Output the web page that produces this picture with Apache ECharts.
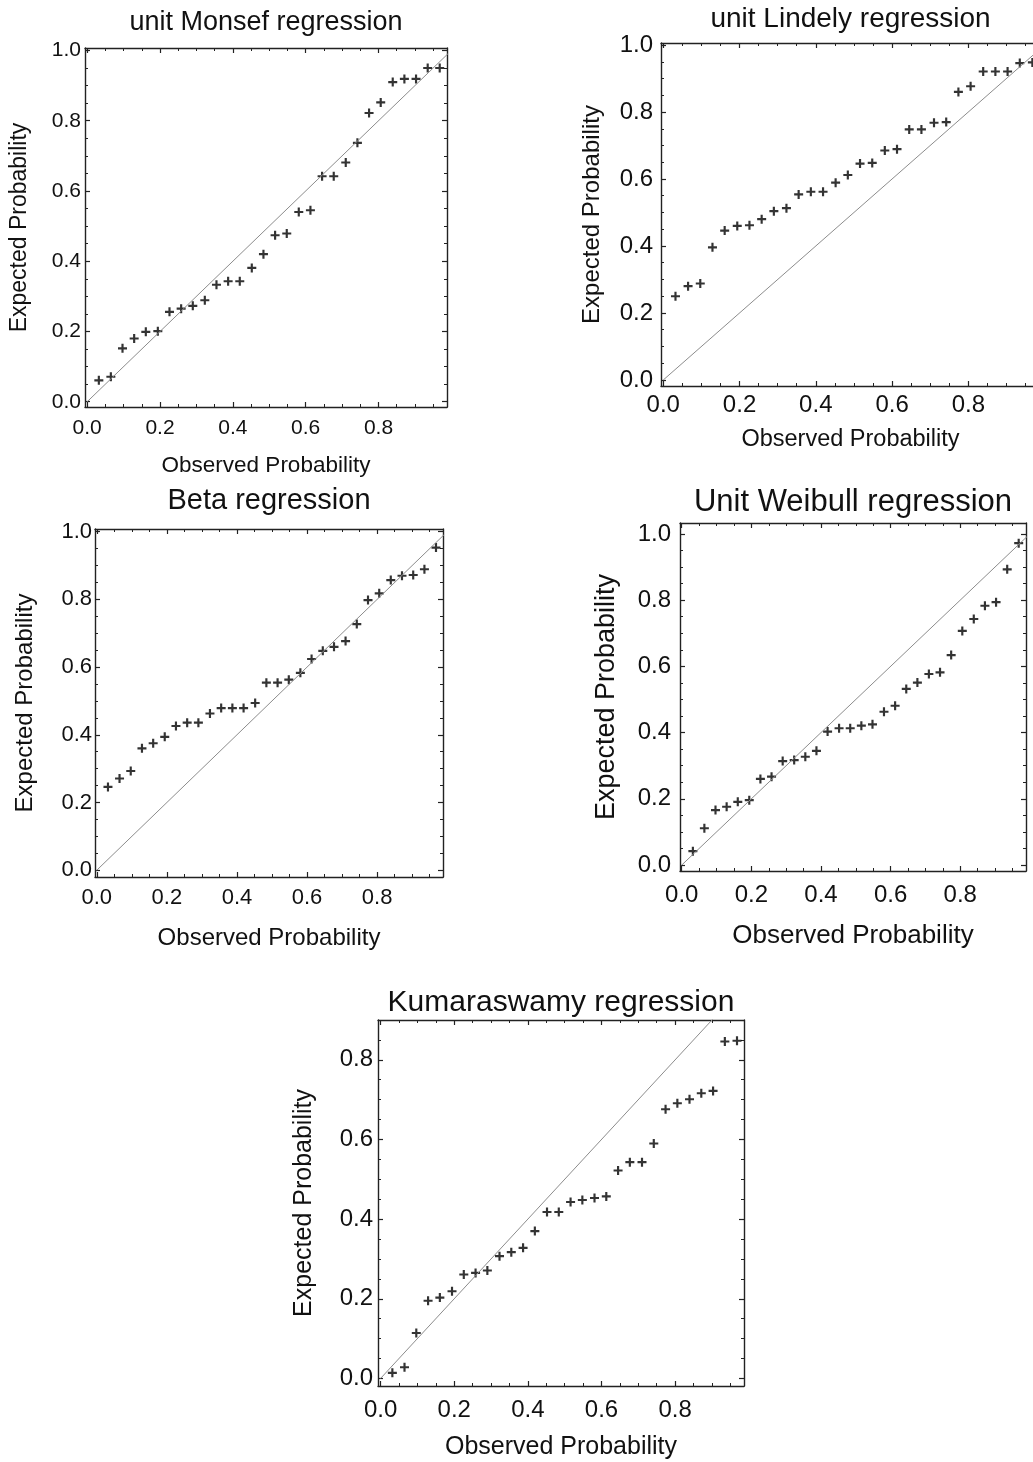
<!DOCTYPE html>
<html>
<head>
<meta charset="utf-8">
<script src="https://cdn.jsdelivr.net/npm/echarts@6/dist/echarts.min.js"></script>
<style>
html, body { margin: 0; padding: 0; background: #fff; }
#chart { width: 1033px; height: 1462px; }
</style>
</head>
<body>
<div id="chart"></div>
<script>
// observed probabilities (same for every panel)
var observed = [0.032, 0.065, 0.097, 0.129, 0.161, 0.194, 0.226, 0.258, 0.290, 0.323,
                0.355, 0.387, 0.419, 0.452, 0.484, 0.516, 0.548, 0.581, 0.613, 0.645,
                0.677, 0.710, 0.742, 0.774, 0.806, 0.839, 0.871, 0.903, 0.935, 0.968];

// expected probabilities per model
var monsef = [0.061, 0.071, 0.152, 0.180, 0.199, 0.201, 0.256, 0.265, 0.273, 0.289,
              0.333, 0.343, 0.343, 0.381, 0.420, 0.474, 0.479, 0.540, 0.545, 0.642,
              0.642, 0.681, 0.737, 0.822, 0.852, 0.910, 0.919, 0.919, 0.950, 0.950];
var lindely = [0.250, 0.280, 0.288, 0.396, 0.446, 0.460, 0.462, 0.480, 0.504, 0.513,
               0.554, 0.562, 0.562, 0.589, 0.612, 0.646, 0.648, 0.685, 0.689, 0.748,
               0.748, 0.768, 0.770, 0.860, 0.877, 0.921, 0.921, 0.921, 0.946, 0.948];
var beta = [0.246, 0.271, 0.293, 0.360, 0.375, 0.394, 0.426, 0.436, 0.436, 0.463,
            0.479, 0.479, 0.479, 0.494, 0.554, 0.554, 0.563, 0.583, 0.624, 0.648,
            0.660, 0.677, 0.727, 0.798, 0.818, 0.857, 0.870, 0.872, 0.889, 0.953];
var weibull = [0.042, 0.111, 0.166, 0.176, 0.191, 0.196, 0.260, 0.267, 0.314, 0.317,
               0.327, 0.345, 0.403, 0.413, 0.413, 0.421, 0.425, 0.463, 0.481, 0.532,
               0.551, 0.577, 0.582, 0.634, 0.707, 0.743, 0.783, 0.794, 0.893, 0.972];
var kumaraswamy = [0.014, 0.028, 0.114, 0.195, 0.203, 0.219, 0.261, 0.265, 0.271, 0.307,
                   0.317, 0.328, 0.370, 0.418, 0.418, 0.443, 0.448, 0.453, 0.457, 0.522,
                   0.543, 0.543, 0.590, 0.676, 0.691, 0.701, 0.716, 0.722, 0.846, 0.848];

// tick labels / tick positions
var majorTicks = [0, 0.2, 0.4, 0.6, 0.8, 1.0];
var minorTicks = [0.05, 0.1, 0.15, 0.25, 0.3, 0.35, 0.45, 0.5, 0.55, 0.65, 0.7, 0.75, 0.85, 0.9, 0.95];
// reference line y = x
var diagonal = [0, 1];

var FONT = 'Liberation Sans, Arial, Helvetica, sans-serif';
var FRAME = '#222';
var TEXT = '#111';

var panels = [
    { title: 'unit Monsef regression', data: monsef, box: [85, 48, 362, 359],
      xr: [-0.006, 0.988], yr: [-0.015, 1.007], titleFs: 27, titleY: 23,
      tickFs: 21, nameFsX: 22.5, nameFsY: 23, xGap: 47, yGap: 54, xMargin: 11, yMargin: 4 },
    { title: 'unit Lindely regression', data: lindely, box: [661, 43, 379, 343],
      xr: [-0.006, 0.988], yr: [-0.018, 1.006], titleFs: 28, titleY: 19.5,
      tickFs: 24, nameFsX: 23.5, nameFsY: 24, xGap: 42, yGap: 57, xMargin: 7, yMargin: 8 },
    { title: 'Beta regression', data: beta, box: [95, 529, 348, 348],
      xr: [-0.005, 0.988], yr: [-0.020, 1.008], titleFs: 29, titleY: 500.5,
      tickFs: 22, nameFsX: 24, nameFsY: 24, xGap: 49, yGap: 58, xMargin: 10, yMargin: 3 },
    { title: 'Unit Weibull regression', data: weibull, box: [680, 523, 346, 348],
      xr: [-0.005, 0.989], yr: [-0.018, 1.033], titleFs: 31, titleY: 502,
      tickFs: 24, nameFsX: 26, nameFsY: 27, xGap: 52, yGap: 60, xMargin: 12, yMargin: 9 },
    { title: 'Kumaraswamy regression', data: kumaraswamy, box: [378, 1020, 366, 366],
      xr: [-0.007, 0.987], yr: [-0.019, 0.900], titleFs: 30, titleY: 1003,
      tickFs: 24, nameFsX: 25, nameFsY: 25, xGap: 49, yGap: 61, xMargin: 12, yMargin: 5 }
];

function within(vals, r) {
    return vals.filter(function (v) { return v >= r[0] && v <= r[1]; });
}

// one side of the frame: a major axis (line + long ticks) and a minor axis (short ticks)
function sideAxes(g, pos, r, p, main) {
    var major = within(majorTicks, r);
    var minor = within(minorTicks, r);
    var isX = pos === 'bottom' || pos === 'top';
    var a = {
        type: 'value', gridIndex: g, position: pos, min: r[0], max: r[1],
        axisLine: { show: true, onZero: false, lineStyle: { color: FRAME, width: 1.4 } },
        axisTick: { show: true, inside: true, length: 5, customValues: major,
                    lineStyle: { color: FRAME, width: 1.2 } },
        axisLabel: { show: false },
        splitLine: { show: false }
    };
    if (main) {
        a.axisLabel = {
            show: true, customValues: major, color: TEXT, fontFamily: FONT, fontSize: p.tickFs,
            margin: isX ? p.xMargin : p.yMargin,
            formatter: function (v) { return v.toFixed(1); }
        };
        a.name = isX ? 'Observed Probability' : 'Expected Probability';
        a.nameLocation = 'middle';
        a.nameGap = isX ? p.xGap : p.yGap;
        a.nameTextStyle = { color: TEXT, fontFamily: FONT, fontSize: isX ? p.nameFsX : p.nameFsY };
    }
    var b = {
        type: 'value', gridIndex: g, position: pos, min: r[0], max: r[1],
        axisLine: { show: false, onZero: false },
        axisTick: { show: true, inside: true, length: 3, customValues: minor,
                    lineStyle: { color: FRAME, width: 1 } },
        axisLabel: { show: false },
        splitLine: { show: false }
    };
    return [a, b];
}

var option = {
    animation: false,
    backgroundColor: '#fff',
    grid: [], xAxis: [], yAxis: [], series: [], graphic: []
};

panels.forEach(function (p, g) {
    option.grid.push({
        left: p.box[0], top: p.box[1], width: p.box[2], height: p.box[3],
        containLabel: false, outerBoundsMode: 'none'
    });
    var xi = option.xAxis.length;
    var yi = option.yAxis.length;
    option.xAxis = option.xAxis.concat(sideAxes(g, 'bottom', p.xr, p, true), sideAxes(g, 'top', p.xr, p, false));
    option.yAxis = option.yAxis.concat(sideAxes(g, 'left', p.yr, p, true), sideAxes(g, 'right', p.yr, p, false));

    option.series.push({
        type: 'line', xAxisIndex: xi, yAxisIndex: yi, silent: true, clip: true,
        symbol: 'none',
        lineStyle: { color: '#8c8c8c', width: 1 },
        data: diagonal.map(function (v) { return [v, v]; })
    });
    option.series.push({
        type: 'scatter', xAxisIndex: xi, yAxisIndex: yi, silent: true,
        symbol: 'path://M3.8,0H6.2V3.8H10V6.2H6.2V10H3.8V6.2H0V3.8H3.8Z',
        symbolSize: 9,
        itemStyle: { color: '#000' },
        data: p.data.map(function (v, i) { return [observed[i], v]; })
    });

    option.graphic.push({
        type: 'text',
        x: p.box[0] + p.box[2] / 2,
        y: p.titleY,
        style: {
            text: p.title, fill: TEXT, font: p.titleFs + 'px ' + FONT,
            align: 'center', verticalAlign: 'middle'
        }
    });
});

var myChart = echarts.init(document.getElementById('chart'));
myChart.setOption(option);
</script>
</body>
</html>
